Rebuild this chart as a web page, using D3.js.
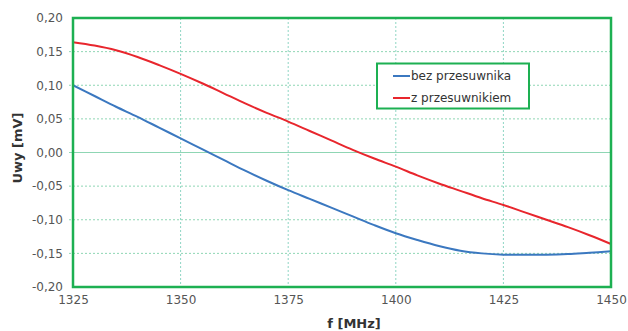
<!DOCTYPE html>
<html><head><meta charset="utf-8">
<script src="https://cdn.jsdelivr.net/npm/d3@7"></script>
<style>body{margin:0;background:#fff}svg{display:block}</style>
</head><body>
<script>
const freq = [1325,1330,1335,1340,1345,1350,1355,1360,1365,1370,1375,1380,1385,1390,1395,1400,1405,1410,1415,1420,1425,1430,1435,1440,1445,1450];
const bezPrzesuwnika = [0.100,0.084,0.068,0.053,0.037,0.021,0.005,-0.011,-0.027,-0.042,-0.056,-0.069,-0.082,-0.095,-0.108,-0.120,-0.130,-0.139,-0.146,-0.150,-0.152,-0.152,-0.152,-0.151,-0.149,-0.147];
const zPrzesuwnikiem = [0.164,0.159,0.152,0.142,0.130,0.117,0.103,0.088,0.073,0.059,0.046,0.032,0.018,0.004,-0.009,-0.021,-0.034,-0.046,-0.057,-0.068,-0.078,-0.089,-0.100,-0.111,-0.123,-0.136];
const xTicks = [1325,1350,1375,1400,1425,1450];
const yTicks = [-0.20,-0.15,-0.10,-0.05,0.00,0.05,0.10,0.15,0.20];
const seriesNames = ["bez przesuwnika","z przesuwnikiem"];
const seriesColors = ["#3b78c0","#e8262d"];

const W = 628, H = 331;
const m = {left:73, right:17, top:18, bottom:44};
const svg = d3.select("body").append("svg").attr("width",W).attr("height",H);
const x = d3.scaleLinear().domain([1325,1450]).range([m.left, W-m.right]);
const y = d3.scaleLinear().domain([-0.20,0.20]).range([H-m.bottom, m.top]);
const font = "DejaVu Sans, Verdana, sans-serif";
const fmt = v => d3.format(".2f")(v).replace(".", ",").replace("−","-");

const g = svg.append("g");
g.selectAll("line.hy").data(yTicks.filter(v=>v>-0.2 && v<0.2)).enter().append("line")
  .attr("x1", m.left-4).attr("x2", W-m.right)
  .attr("y1", d=>y(d)).attr("y2", d=>y(d))
  .attr("stroke", "#8fd6b4").attr("stroke-width",1)
  .attr("stroke-dasharray", d => Math.abs(d)<1e-9 ? null : "2,2");
g.selectAll("line.vx").data(xTicks.filter(v=>v>1325 && v<1450)).enter().append("line")
  .attr("x1", d=>x(d)).attr("x2", d=>x(d))
  .attr("y1", m.top).attr("y2", H-m.bottom)
  .attr("stroke", "#8fd6c4").attr("stroke-width",1)
  .attr("stroke-dasharray","2,2");

const yAxis = svg.append("g").attr("transform",`translate(${m.left-4},0)`)
  .call(d3.axisLeft(y).tickValues(yTicks).tickFormat(fmt).tickSize(0).tickPadding(6));
yAxis.select(".domain").remove();
yAxis.selectAll("text").attr("font-family",font).attr("font-size",12).attr("fill","#555");

const xAxis = svg.append("g").attr("transform",`translate(0,${H-m.bottom})`)
  .call(d3.axisBottom(x).tickValues(xTicks).tickFormat(d3.format("d")).tickSize(0).tickPadding(8));
xAxis.select(".domain").remove();
xAxis.selectAll("text").attr("font-family",font).attr("font-size",12).attr("fill","#555");

const data = [bezPrzesuwnika, zPrzesuwnikiem];
const line = d3.line().x((d,i)=>x(freq[i])).y(d=>y(d)).curve(d3.curveCatmullRom.alpha(0.5));
data.forEach((s,k)=>{
  svg.append("path").datum(s).attr("d",line).attr("fill","none")
    .attr("stroke",seriesColors[k]).attr("stroke-width",2);
});

svg.append("rect").attr("x",m.left).attr("y",m.top)
  .attr("width",W-m.right-m.left).attr("height",H-m.bottom-m.top)
  .attr("fill","none").attr("stroke","#1db052").attr("stroke-width",2.5);

svg.append("text").attr("x",354).attr("y",328)
  .attr("text-anchor","middle").attr("font-family",font).attr("font-size",13)
  .attr("font-weight","bold").attr("fill","#333").text("f [MHz]");
svg.append("text").attr("transform",`translate(22,148) rotate(-90)`)
  .attr("text-anchor","middle").attr("font-family",font).attr("font-size",13)
  .attr("font-weight","bold").attr("fill","#333").text("Uwy [mV]");

const lg = svg.append("g");
lg.append("rect").attr("x",377).attr("y",63.5).attr("width",152).attr("height",45)
  .attr("fill","#fff").attr("stroke","#1db052").attr("stroke-width",2);
seriesNames.forEach((n,k)=>{
  const yy = 76 + k*22;
  lg.append("line").attr("x1",393).attr("x2",410).attr("y1",yy).attr("y2",yy)
    .attr("stroke",seriesColors[k]).attr("stroke-width",2);
  lg.append("text").attr("x",411).attr("y",yy+4).attr("font-family",font)
    .attr("font-size",12).attr("fill","#333").text(n);
});
</script>
</body></html>
